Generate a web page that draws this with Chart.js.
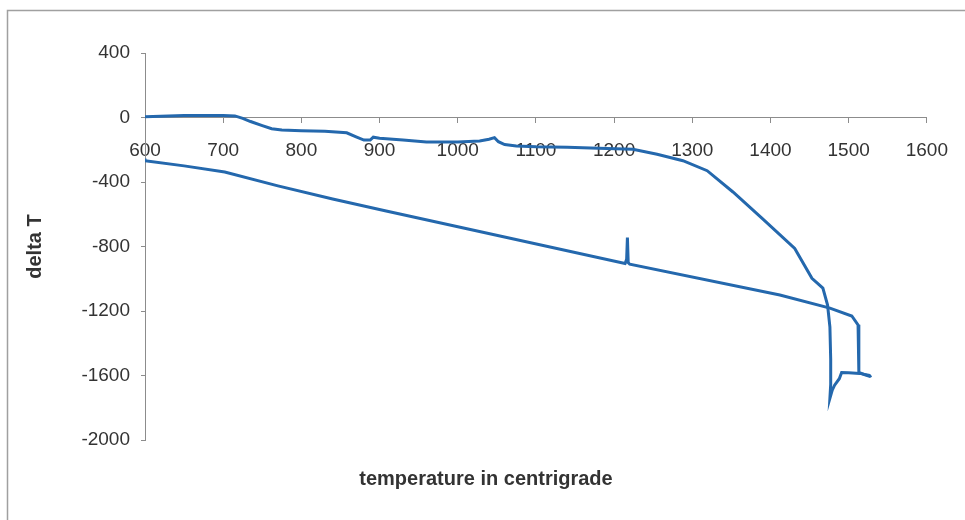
<!DOCTYPE html>
<html>
<head>
<meta charset="utf-8">
<script src="https://cdn.jsdelivr.net/npm/chart.js@4/dist/chart.umd.min.js"></script>
<style>
  html, body { margin: 0; padding: 0; background: #fff; }
  #wrap { width: 965px; height: 520px; }
</style>
</head>
<body>
<div id="wrap"><canvas id="dtaChart"></canvas></div>
<script>
// upper trace (heating)
const heatTemp = [600, 620, 650, 700, 715, 725, 735, 750, 762, 775, 800, 830, 858, 870, 880, 888, 892, 900, 930, 960, 1000, 1028, 1040, 1047, 1052, 1060, 1075, 1100, 1140, 1180, 1224, 1255, 1288, 1319, 1352, 1390, 1431, 1453, 1467, 1473, 1476, 1477, 1477, 1476, 1479, 1482, 1488, 1491, 1500, 1514, 1527];
const heatDelta = [5, 8, 12, 12, 10, -5, -25, -50, -70, -78, -82, -86, -95, -120, -140, -140, -122, -128, -140, -152, -152, -146, -135, -125, -150, -168, -176, -182, -185, -190, -197, -228, -268, -330, -462, -628, -812, -997, -1058, -1163, -1300, -1500, -1655, -1741, -1690, -1660, -1620, -1581, -1583, -1587, -1600];

// lower trace (cooling)
const coolTemp = [600, 600, 650, 702, 770, 840, 907, 1214, 1216, 1217, 1218, 1220, 1412, 1476, 1504, 1512, 1513, 1513, 1520, 1527, 1529];
const coolDelta = [-255, -268, -300, -338, -424, -505, -578, -905, -880, -745, -900, -910, -1101, -1182, -1231, -1286, -1400, -1580, -1595, -1605, -1600];

const xTicks = [600, 700, 800, 900, 1000, 1100, 1200, 1300, 1400, 1500, 1600];
const yTicks = [400, 0, -400, -800, -1200, -1600, -2000];

const toPoints = (xs, ys) => xs.map((x, i) => ({ x: x, y: ys[i] }));

const lineColor = '#2468ad';
const textColor = '#333333';
const axisColor = '#8c8c8c';
const fontFamily = '"Liberation Sans", Arial, sans-serif';

// grey frame round the whole chart, like the spreadsheet chart object
const framePlugin = {
  id: 'frame',
  beforeDraw(chart) {
    const { ctx } = chart;
    ctx.save();
    ctx.fillStyle = '#ffffff';
    ctx.fillRect(0, 0, chart.width, chart.height);
    ctx.strokeStyle = '#a0a0a0';
    ctx.lineWidth = 1.5;
    ctx.strokeRect(7.5, 10.5, chart.width + 20, chart.height + 20);
    ctx.restore();
  }
};

new Chart(document.getElementById('dtaChart'), {
  type: 'scatter',
  data: {
    datasets: [
      {
        label: 'heating',
        data: toPoints(heatTemp, heatDelta),
        showLine: true,
        borderColor: lineColor,
        borderWidth: 3,
        pointRadius: 0,
        tension: 0,
      },
      {
        label: 'cooling',
        data: toPoints(coolTemp, coolDelta),
        showLine: true,
        borderColor: lineColor,
        borderWidth: 3,
        pointRadius: 0,
        tension: 0,
      },
    ],
  },
  options: {
    responsive: true,
    maintainAspectRatio: false,
    animation: false,
    layout: {
      padding: { left: 45, right: 38, top: 53, bottom: 0 }
    },
    scales: {
      x: {
        type: 'linear',
        position: { y: 0 },
        min: 600,
        max: 1600,
        afterBuildTicks: (axis) => { axis.ticks = xTicks.map((v) => ({ value: v })); },
        grid: { drawOnChartArea: false, drawTicks: true, tickLength: 5, color: axisColor },
        border: { display: true, color: axisColor, width: 1 },
        ticks: {
          color: textColor,
          padding: 17,
          maxRotation: 0,
          autoSkip: false,
          callback: (v) => String(v),
          font: { family: fontFamily, size: 19 },
        },
      },
      y: {
        type: 'linear',
        min: -2000,
        max: 400,
        afterBuildTicks: (axis) => { axis.ticks = yTicks.map((v) => ({ value: v })); },
        afterFit: (axis) => { axis.width = 100; },
        grid: { drawOnChartArea: false, drawTicks: true, tickLength: 4, color: axisColor },
        border: { display: true, color: axisColor, width: 1 },
        ticks: {
          color: textColor,
          padding: 11,
          autoSkip: false,
          callback: (v) => String(v),
          font: { family: fontFamily, size: 19 },
        },
        title: {
          display: true,
          text: 'delta T',
          color: textColor,
          padding: { top: -22, bottom: 0 },
          font: { family: fontFamily, size: 20, weight: 'bold' },
        },
      },
    },
    plugins: {
      legend: { display: false },
      tooltip: { enabled: false },
      title: {
        display: true,
        position: 'bottom',
        text: 'temperature in centrigrade',
        color: textColor,
        padding: { top: 27, bottom: 29 },
        font: { family: fontFamily, size: 20, weight: 'bold' },
      },
    },
  },
  plugins: [framePlugin],
});
</script>
</body>
</html>
